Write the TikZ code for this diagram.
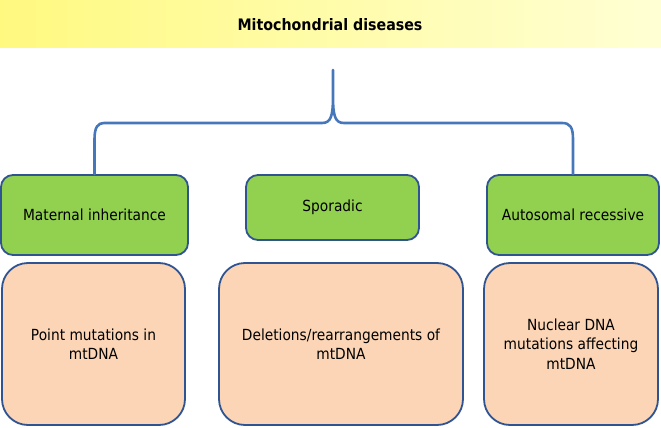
\documentclass[tikz,border=0pt]{standalone}
\usepackage{fontspec}
\setmainfont[FakeStretch=0.9]{DejaVu Sans}
\definecolor{boxline}{RGB}{47,84,145}
\definecolor{bracecol}{RGB}{70,119,186}
\definecolor{boxgreen}{RGB}{146,208,80}
\definecolor{boxorange}{RGB}{251,213,181}
\definecolor{bannerA}{RGB}{255,249,128}
\definecolor{bannerB}{RGB}{255,255,212}
\begin{document}
\begin{tikzpicture}[x=1pt,y=-1pt,
  box/.style={draw=boxline, line width=1.8pt, align=center, inner sep=0pt,
    font=\fontsize{15.3}{19.5}\selectfont},
  greenbox/.style={box, fill=boxgreen, rounded corners=12pt},
  orangebox/.style={box, fill=boxorange, rounded corners=26pt},
  brace/.style={draw=bracecol, line width=2.6pt, line cap=round, line join=round}]
\useasboundingbox (0,0) rectangle (661,428);
\shade[left color=bannerA, right color=bannerB] (0,0) rectangle (661,48);
\node[font=\bfseries\fontsize{15.8}{18}\selectfont] (title) at (330,25) {Mitochondrial diseases};

\node[greenbox, minimum width=187pt, minimum height=80pt] (g1) at (94.5,215) {Maternal inheritance};
\node[greenbox, minimum width=173pt, minimum height=65pt] (g2) at (332.5,207.5) {Sporadic};
\node[greenbox, minimum width=172pt, minimum height=80pt] (g3) at (573,215) {Autosomal recessive};

\node[orangebox, minimum width=183pt, minimum height=162pt] (o1) at (93.5,344) {Point mutations in\\mtDNA};
\node[orangebox, minimum width=244pt, minimum height=162pt] (o2) at (341,344) {Deletions/rearrangements of\\mtDNA};
\node[orangebox, minimum width=174pt, minimum height=162pt] (o3) at (571,344) {Nuclear DNA\\mutations affecting\\mtDNA};

\coordinate (tip) at (333,70);
\draw[brace] (g1.north) -- ++(0,-35) .. controls +(0,-12) and +(-6,0) .. (104,123)
  -- (322,123) .. controls (331,123) and (333,116) .. (333,96) -- (tip)
  (333,96) .. controls (333,116) and (335,123) .. (344,123)
  -- (562,123) .. controls +(8,0) and +(0,-12) .. ([yshift=35pt]g3.north) -- (g3.north);
\end{tikzpicture}
\end{document}
